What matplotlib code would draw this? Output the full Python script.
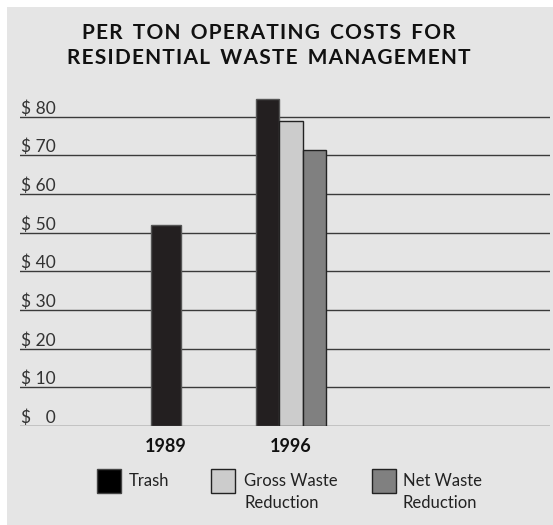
import matplotlib.pyplot as plt
import matplotlib.patches as mpatches
from matplotlib import transforms
import numpy as np

# data
years = ['1989', '1996']
trash = [52, 84.5]
gross = [np.nan, 79]
net = [np.nan, 71.5]
series_names = ['Trash', 'Gross Waste\nReduction', 'Net Waste\nReduction']
yticks = [0, 10, 20, 30, 40, 50, 60, 70, 80]
ytick_labels = ['$ \u20070', '$ 10', '$ 20', '$ 30', '$ 40', '$ 50', '$ 60', '$ 70', '$ 80']
title_lines = ['PER TON OPERATING COSTS FOR', 'RESIDENTIAL WASTE MANAGEMENT']

W, H = 553, 525
fig = plt.figure(figsize=(W / 100, H / 100), dpi=100)
fig.patch.set_facecolor('white')
# grey panel with a thin white margin at top/left
fig.add_artist(mpatches.Rectangle((7 / W, 0), 1 - 7 / W, 1 - 7 / H, transform=fig.transFigure,
                                  facecolor='#e5e5e5', edgecolor='none', zorder=0))

px_per_unit = 3.867
ymax = 88
ax_bottom = 426
ax_top = ax_bottom - ymax * px_per_unit
ax = fig.add_axes([20 / W, (H - ax_bottom) / H, 530 / W, (ax_bottom - ax_top) / H])
ax.set_facecolor('none')

bar_colors = ['#231f20', '#cccccc', '#808080']
edge_colors = ['#555555', '#222222', '#222222']

x = np.arange(len(years))
w = 0.187
# 1989: only trash, a bit wider
ax.bar(x[0], trash[0], width=0.24, color=bar_colors[0], edgecolor=edge_colors[0], linewidth=1, zorder=3)
for i, vals in enumerate([trash, gross, net]):
    ax.bar(x[1] + (i - 1) * w, vals[1], width=w, color=bar_colors[i], edgecolor=edge_colors[i],
           linewidth=1, zorder=3)

ax.set_xlim(-1.168, 3.072)
ax.set_ylim(0, ymax)
ax.set_yticks(yticks)
ax.set_yticklabels([])
ax.tick_params(axis='y', length=0)
ax.yaxis.grid(True, color='#3a3a3a', linewidth=1)
ax.set_axisbelow(True)
for s in ax.spines.values():
    s.set_visible(False)

ax.set_xticks(x)
ax.set_xticklabels(years, fontsize=13, fontweight='bold', family='Lato', color='#111111')
ax.tick_params(axis='x', length=0, pad=9)

# y labels sit just above the gridlines, flush left
trans = transforms.blended_transform_factory(ax.transAxes, ax.transData)
trans = transforms.offset_copy(trans, fig=fig, x=1, y=3, units='dots')
for v, lab in zip(yticks, ytick_labels):
    ax.text(0, v, lab, transform=trans, ha='left', va='baseline', fontsize=12.5,
            family=['Lato', 'DejaVu Sans'], color='#333333')

# title with letter spacing (hair spaces between letters, a bit more between words)
def spaced(s):
    return '\u200a'.join(s).replace(' ', ' \u2009')

for line, yp in zip(title_lines, [33, 58]):
    fig.text(269 / W, 1 - yp / H, spaced(line), ha='center', va='center',
             fontsize=15, fontweight='bold', family=['Lato', 'DejaVu Sans'], color='#111111')

# legend
sw_x = [97, 211, 372]
txt_x = [129, 244, 403]
sw_y = 469
sw = 24
leg_colors = ['#000000', '#cccccc', '#808080']
leg_edges = ['#444444', '#222222', '#222222']
for i, name in enumerate(series_names):
    fig.add_artist(mpatches.Rectangle((sw_x[i] / W, 1 - (sw_y + sw) / H), sw / W, sw / H,
                                      transform=fig.transFigure, facecolor=leg_colors[i],
                                      edgecolor=leg_edges[i], linewidth=1))
    fig.text(txt_x[i] / W, 1 - 473 / H, name, ha='left', va='top', fontsize=12,
             family='Lato', color='#222222', linespacing=1.45)

fig.savefig('out.png', dpi=100, facecolor=fig.get_facecolor())
